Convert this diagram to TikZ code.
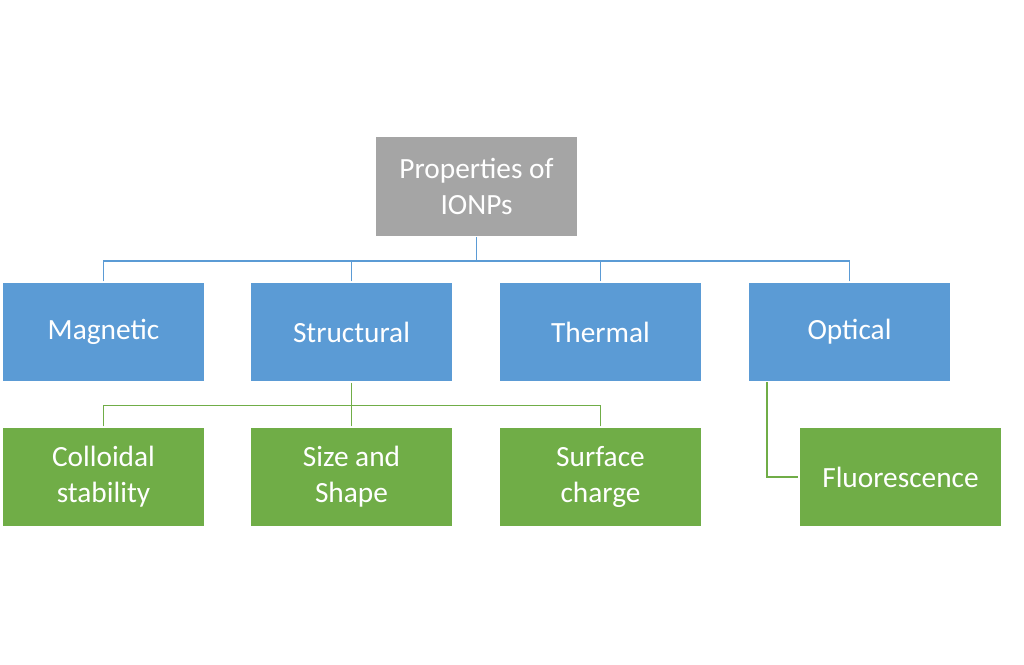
\documentclass[tikz,border=0pt]{standalone}
\usepackage{fontspec}
\setmainfont{Carlito}
\usepackage{tikz}

\definecolor{rootgray}{RGB}{165,165,165}
\definecolor{catblue}{RGB}{91,155,213}
\definecolor{subgreen}{RGB}{112,173,71}

\tikzset{
  box/.style={draw=white,line width=1pt,minimum width=203*0.75pt,minimum height=100*0.75pt,
    inner sep=0.75pt,align=center,text=white,font=\fontsize{22}{27}\selectfont},
  rootbox/.style={box,fill=rootgray},
  catbox/.style={box,fill=catblue},
  subbox/.style={box,fill=subgreen},
  bluelink/.style={draw=catblue,line width=1.2pt},
  greenlink/.style={draw=subgreen,line width=1.2pt}
}

\begin{document}
\begin{tikzpicture}[x=0.75pt,y=0.75pt,yscale=-1,xscale=1]
\useasboundingbox (0,0) rectangle (1024,664);

% Root
\node [rootbox] (root) at (476.5,186.5) {Properties of\\IONPs};
% Categories
\node [catbox] (mag) at (103.5,332) {Magnetic};
\node [catbox] (str) at (351.5,332) {Structural};
\node [catbox] (the) at (600.5,332) {Thermal};
\node [catbox] (opt) at (849.5,332) {Optical};
% Sub-properties
\node [subbox] (col) at (103.5,477) {Colloidal\\stability};
\node [subbox] (siz) at (351.5,477) {Size and\\Shape};
\node [subbox] (sur) at (600.5,477) {Surface\\charge};
\node [subbox] (flu) at (900.5,477) {Fluorescence};

% Tree links
\draw [bluelink] (root.south) -- ++(0,24) coordinate (rj);
\foreach \n in {mag,str,the,opt}
  \draw [bluelink] (\n.north) -- (\n.north |- rj) -- (rj);
\draw [greenlink] (str.south) -- ++(0,23) coordinate (sj);
\foreach \n in {col,siz,sur}
  \draw [greenlink] (\n.north) -- (\n.north |- sj) -- (sj);
\draw [greenlink] (767,382) coordinate (oj) -- (oj |- flu.west) -- (flu.west);

\end{tikzpicture}
\end{document}
